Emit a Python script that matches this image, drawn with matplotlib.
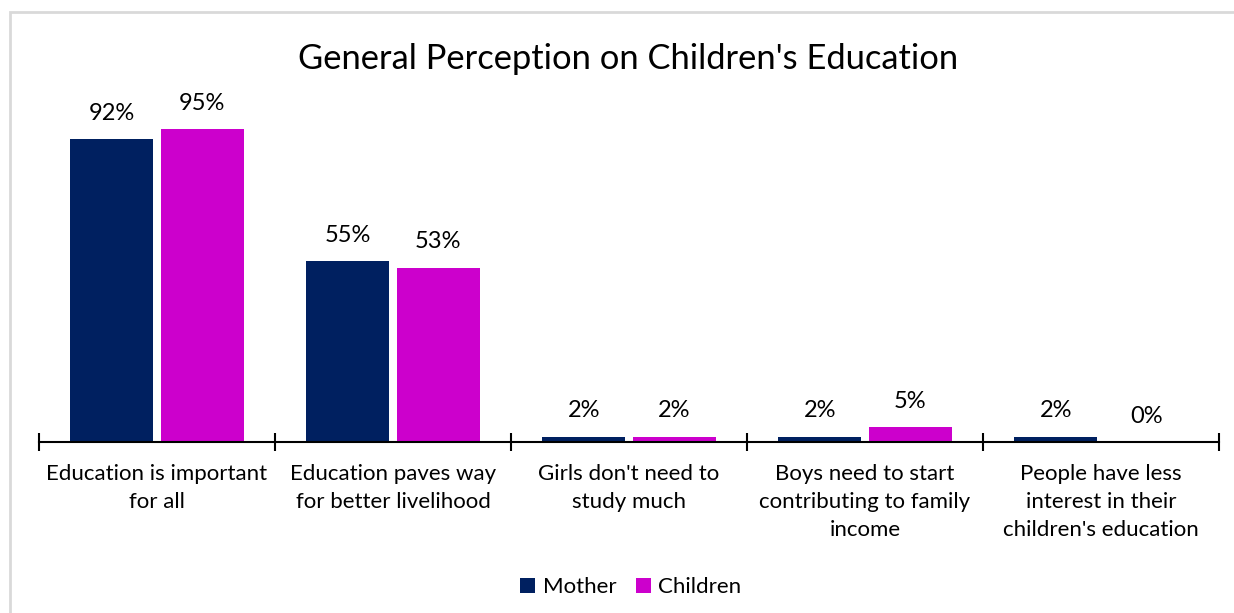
import matplotlib.pyplot as plt
from matplotlib.patches import Rectangle
import numpy as np

plt.rcParams['font.family'] = ['Lato', 'DejaVu Sans']

categories = ["Education is important\nfor all",
              "Education paves way\nfor better livelihood",
              "Girls don't need to\nstudy much",
              "Boys need to start\ncontributing to family\nincome",
              "People have less\ninterest in their\nchildren's education"]
mother = [92, 55, 1.6, 1.6, 1.6]
children = [95, 53, 1.6, 4.6, 0]

mother_color = "#002060"
children_color = "#CC00CC"

W, H = 1234, 613
fig = plt.figure(figsize=(W / 100, H / 100), dpi=100)

# light grey frame like the source screenshot
fig.patches.append(Rectangle((10 / W, -0.1), 1.2, (H - 12) / H + 0.1,
                             transform=fig.transFigure, fill=False,
                             edgecolor="#d9d9d9", linewidth=2))

ax = fig.add_axes([39 / W, 171 / H, 1180 / W, 329 / H])

x = np.arange(len(categories))
bw = 0.352
off = 0.191
b1 = ax.bar(x - off, mother, bw, color=mother_color, label="Mother")
b2 = ax.bar(x + off, children, bw, color=children_color, label="Children")

for bars, vals in ((b1, mother), (b2, children)):
    for rect, v in zip(bars, vals):
        ax.annotate(f"{round(v)}%", (rect.get_x() + rect.get_width() / 2, v),
                    xytext=(0, 11), textcoords="offset points",
                    ha="center", va="bottom", fontsize=17)

ax.set_xlim(-0.5, len(categories) - 0.5)
ax.set_ylim(0, 100)
ax.set_yticks([])
for s in ["top", "right", "left"]:
    ax.spines[s].set_visible(False)
ax.spines["bottom"].set_linewidth(1.5)

ax.set_xticks(np.arange(len(categories) + 1) - 0.5, minor=False)
ax.set_xticklabels([])
ax.tick_params(axis="x", which="major", direction="inout", length=13, width=1.5)
ax.set_xticks(x, minor=True)
ax.set_xticklabels(categories, minor=True, fontsize=16, linespacing=1.48)
ax.tick_params(axis="x", which="minor", length=0, pad=16)
for lbl in ax.get_xticklabels(minor=True):
    lbl.set_verticalalignment("top")

fig.text(628 / W, (H - 59) / H, "General Perception on Children's Education",
         ha="center", va="center", fontsize=24.8)

fig.legend(handles=[b1, b2], loc="center", bbox_to_anchor=(631 / W, (H - 587) / H),
           ncol=2, frameon=False, fontsize=16, handlelength=0.65, handleheight=0.65,
           handletextpad=0.35, columnspacing=0.9)

plt.savefig("out.png", dpi=100)
